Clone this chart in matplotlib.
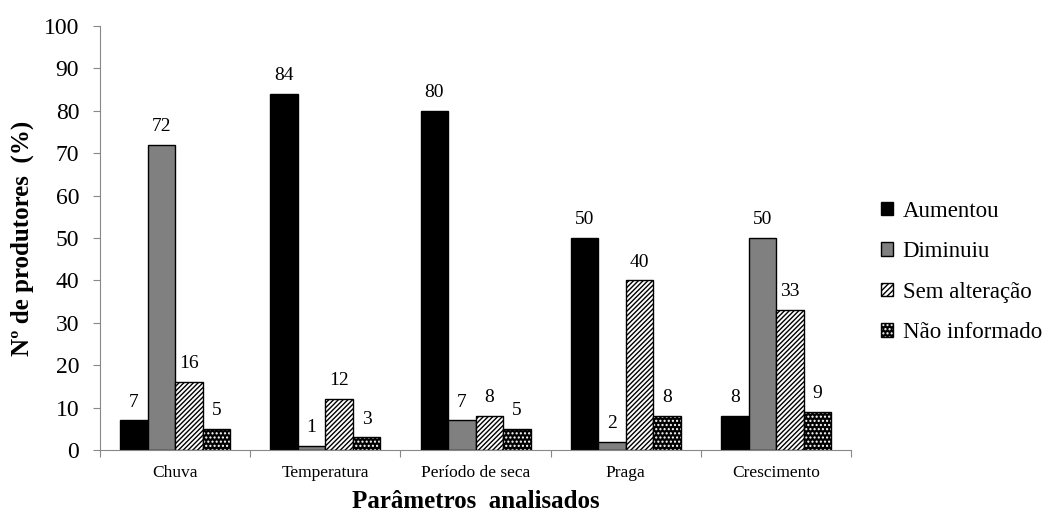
import numpy as np
import matplotlib.pyplot as plt
from matplotlib.patches import Patch

# dados do gráfico
parametros = ['Chuva', 'Temperatura', 'Período de seca', 'Praga', 'Crescimento']
aumentou = [7, 84, 80, 50, 8]
diminuiu = [72, 1, 7, 2, 50]
sem_alteracao = [16, 12, 8, 40, 33]
nao_informado = [5, 3, 5, 8, 9]

plt.rcParams['font.family'] = ['Liberation Serif', 'DejaVu Serif']
plt.rcParams['hatch.linewidth'] = 1.0

fig = plt.figure(figsize=(10.58, 5.14), dpi=100)
ax = fig.add_axes([0.0945, 0.1245, 0.71, 0.825])

x = np.arange(len(parametros))
w = 0.183
off = np.array([-1.5, -0.5, 0.5, 1.5]) * w

b1 = ax.bar(x + off[0], aumentou, w, color='black', edgecolor='black', linewidth=1)
b2 = ax.bar(x + off[1], diminuiu, w, color='#808080', edgecolor='black', linewidth=1)
b3 = ax.bar(x + off[2], sem_alteracao, w, color='white', edgecolor='black',
            hatch='///////', linewidth=1)
# pontos brancos em fundo preto
b4 = ax.bar(x + off[3], nao_informado, w, color='black', edgecolor='white',
            hatch='....', linewidth=0)
ax.bar(x + off[3], nao_informado, w, fill=False, edgecolor='black', linewidth=1)

for bars, vals in [(b1, aumentou), (b2, diminuiu), (b3, sem_alteracao), (b4, nao_informado)]:
    for rect, v in zip(bars, vals):
        ax.annotate(str(v), (rect.get_x() + rect.get_width() / 2, v),
                    xytext=(0, 7), textcoords='offset points',
                    ha='center', va='bottom', fontsize=14)

ax.set_xlim(-0.5, len(parametros) - 0.5)
ax.set_ylim(0, 100)
ax.set_yticks(np.arange(0, 101, 10))
ax.tick_params(axis='y', labelsize=17, direction='out', length=5, color='#888888', pad=10)
ax.set_xticks(np.arange(-0.5, len(parametros), 1))
ax.set_xticklabels([])
ax.set_xticks(x, minor=True)
ax.set_xticklabels(parametros, minor=True, fontsize=12.5)
ax.tick_params(axis='x', which='major', direction='out', length=5, color='#888888')
ax.tick_params(axis='x', which='minor', length=0, pad=11)

for s in ['top', 'right']:
    ax.spines[s].set_visible(False)
for s in ['left', 'bottom']:
    ax.spines[s].set_color('#888888')

ax.set_ylabel('Nº de produtores  (%)', fontsize=18, fontweight='bold', labelpad=7)
ax.set_xlabel('Parâmetros  analisados', fontsize=18, fontweight='bold', labelpad=6)

handles = [
    Patch(facecolor='black', edgecolor='black'),
    Patch(facecolor='#808080', edgecolor='black'),
    Patch(facecolor='white', edgecolor='black', hatch='//////'),
    (Patch(facecolor='black', edgecolor='white', hatch='....', linewidth=0),
     Patch(fill=False, edgecolor='black')),
]
labels = ['Aumentou', 'Diminuiu', 'Sem alteração', 'Não informado']
fig.legend(handles, labels, loc='center left', bbox_to_anchor=(0.813, 0.471),
           frameon=False, fontsize=16.5, handlelength=0.55, handleheight=0.55,
           handletextpad=0.4, labelspacing=0.85)

fig.savefig('out.png', dpi=100)
